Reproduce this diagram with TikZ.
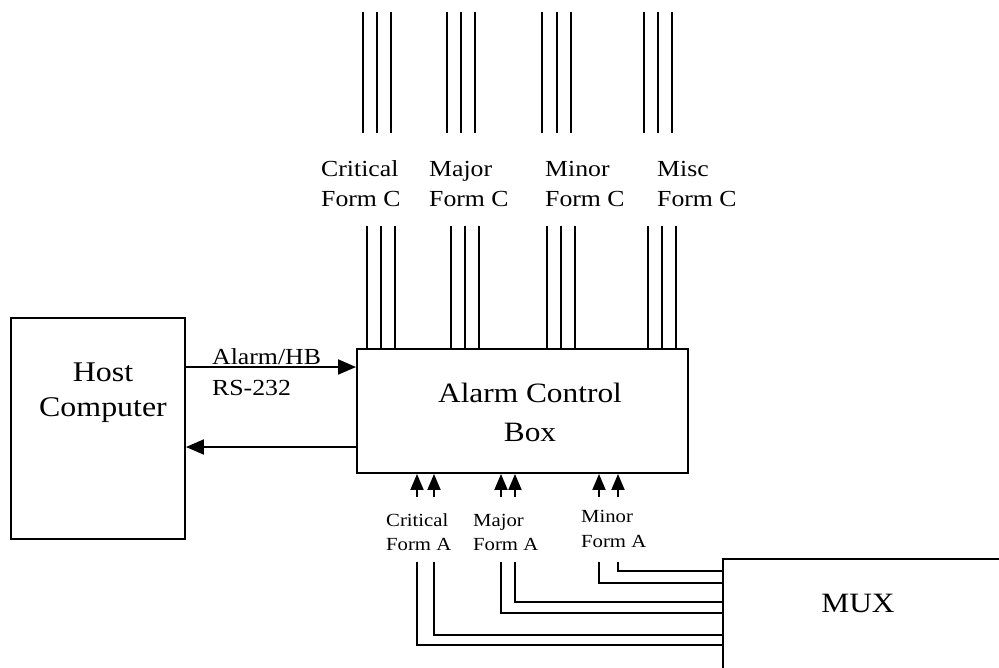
\documentclass[tikz,border=0pt]{standalone}
\usepackage{fontspec}
\setmainfont{Liberation Serif}[FakeStretch=1.12]
\usetikzlibrary{arrows.meta}
\tikzset{
  box/.style={draw, line width=1.9pt, inner sep=0pt},
  wire/.style={line width=1.9pt},
  lbl/.style={inner sep=0pt, anchor=west, align=left},
  bigtxt/.style={inner sep=0pt, align=center, font=\fontsize{28.5}{35}\selectfont},
  arrbig/.style={wire, -{Triangle[length=18pt,width=15pt]}},
  arrsmall/.style={wire, -{Triangle[length=16pt,width=13pt]}},
}
\begin{document}
\begin{tikzpicture}[x=1pt,y=-1pt]
\useasboundingbox (0,0) rectangle (999,667);
\clip (0,0) rectangle (999,667);
% boxes
\node[box, minimum width=174pt, minimum height=221pt] (host) at (98,428.5) {};
\node[bigtxt] (hosttxt) at (103,393) {Host\\Computer};
\node[box, minimum width=331pt, minimum height=124pt] (acb) at (522.5,411) {};
\node[bigtxt, font=\fontsize{28}{39}\selectfont] (acbtxt) at (530,412) {Alarm Control\\Box};
\node[box, minimum width=287pt, minimum height=121pt] (mux) at (866.5,619.5) {};
\node[bigtxt, font=\fontsize{28}{34}\selectfont] (muxtxt) at (858,603) {MUX};
% host links
\coordinate (ya) at (0,367);
\coordinate (yb) at (0,447);
\draw[arrbig] (host.east |- ya) -- (acb.west |- ya);
\draw[arrbig] (acb.west |- yb) -- (host.east |- yb);
\node[lbl, font=\fontsize{23}{30}\selectfont] (alhb) at (212,357) {Alarm/HB};
\node[lbl, font=\fontsize{23}{30}\selectfont] (rs) at (212,388) {RS-232};
% top wires
\foreach \x [count=\i] in {363,377,391,447,461,475,542,557,571,644,658,672}{
  \draw[wire] (\x,12) coordinate (ta\i) -- (\x,133) coordinate (tb\i);
}
\foreach \x [count=\i] in {367,381,395,451,465,479,547,561,575,648,662,676}{
  \draw[wire] (\x,226) coordinate (tc\i) -- (\x,0 |- acb.north);
}
% Form C labels
\foreach \x/\n/\t in {321/crit/Critical,429/maj/Major,545/min/Minor,657/misc/Misc}{
  \node[lbl, font=\fontsize{23}{30}\selectfont] (fc\n) at (\x,184) {\t\\Form C};
}
% bottom arrows
\foreach \x [count=\i] in {417,434,501,515,599,618}{
  \draw[arrsmall] (\x,497) coordinate (ba\i) -- (\x,0 |- acb.south);
}
\node[lbl, font=\fontsize{18.5}{24}\selectfont] (facrit) at (386,532) {Critical\\Form A};
\node[lbl, font=\fontsize{18.5}{24}\selectfont] (famaj) at (473,532) {Major\\Form A};
\node[lbl, font=\fontsize{18.5}{25}\selectfont] (famin) at (581,529) {Minor\\Form A};
% MUX wires
\foreach \x/\y [count=\i] in {618/571,599/583,515/602,501/613,434/635,417/645}{
  \draw[wire] (\x,562) coordinate (mw\i) |- (mux.west |- 0,\y);
}
\end{tikzpicture}
\end{document}
